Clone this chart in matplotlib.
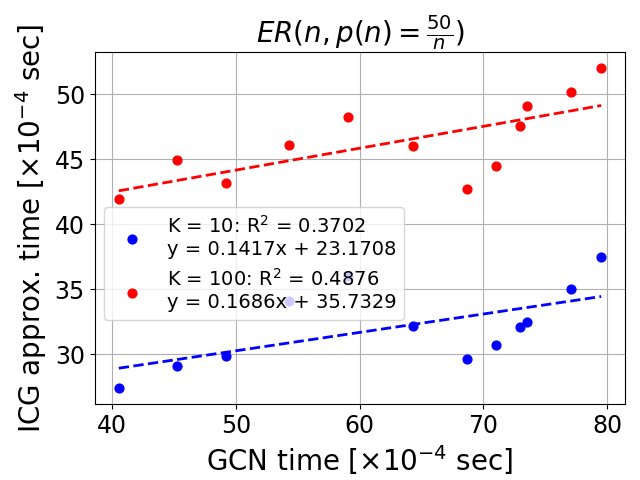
import numpy as np
import matplotlib
matplotlib.use("Agg")
import matplotlib.pyplot as plt

# GCN times (x), shared by both K values
gcn_time = [40.56, 45.22, 49.25, 54.33, 59.10, 64.30, 68.70, 71.05, 72.98, 73.53, 77.06, 79.50]

icg_k10 = [27.38, 29.08, 29.82, 34.12, 36.02, 32.15, 29.60, 30.69, 32.08, 32.46, 35.00, 37.46]
icg_k100 = [41.95, 44.95, 43.15, 46.08, 48.23, 46.00, 42.70, 44.48, 47.54, 49.10, 50.15, 52.00]

fit_k10 = (0.1417, 23.1708, 0.3702)
fit_k100 = (0.1686, 35.7329, 0.4876)

fig, ax = plt.subplots(figsize=(6.4, 4.8), dpi=100)
plt.subplots_adjust(left=0.148, right=0.977, top=0.891, bottom=0.158)

x = np.array(gcn_time)
xs = np.array([x.min(), x.max()])

ax.scatter(x, icg_k10, color='blue', s=40, zorder=3,
           label="K = 10: R$^2$ = %.4f\ny = %.4fx + %.4f" % (fit_k10[2], fit_k10[0], fit_k10[1]))
ax.plot(xs, fit_k10[0] * xs + fit_k10[1], '--', color='blue', linewidth=2)

ax.scatter(x, icg_k100, color='red', s=40, zorder=3,
           label="K = 100: R$^2$ = %.4f\ny = %.4fx + %.4f" % (fit_k100[2], fit_k100[0], fit_k100[1]))
ax.plot(xs, fit_k100[0] * xs + fit_k100[1], '--', color='red', linewidth=2)

ax.set_title(r"$ER(n, p(n) = \frac{50}{n})$", fontsize=20)
ax.set_xlabel(r"GCN time [$\times 10^{-4}$ sec]", fontsize=20)
ax.set_ylabel(r"ICG approx. time [$\times 10^{-4}$ sec]", fontsize=20)
ax.tick_params(axis='both', labelsize=17)
ax.grid(True)
ax.legend(fontsize=14, loc='center left', bbox_to_anchor=(0, 0.40))

plt.savefig("out.png")
